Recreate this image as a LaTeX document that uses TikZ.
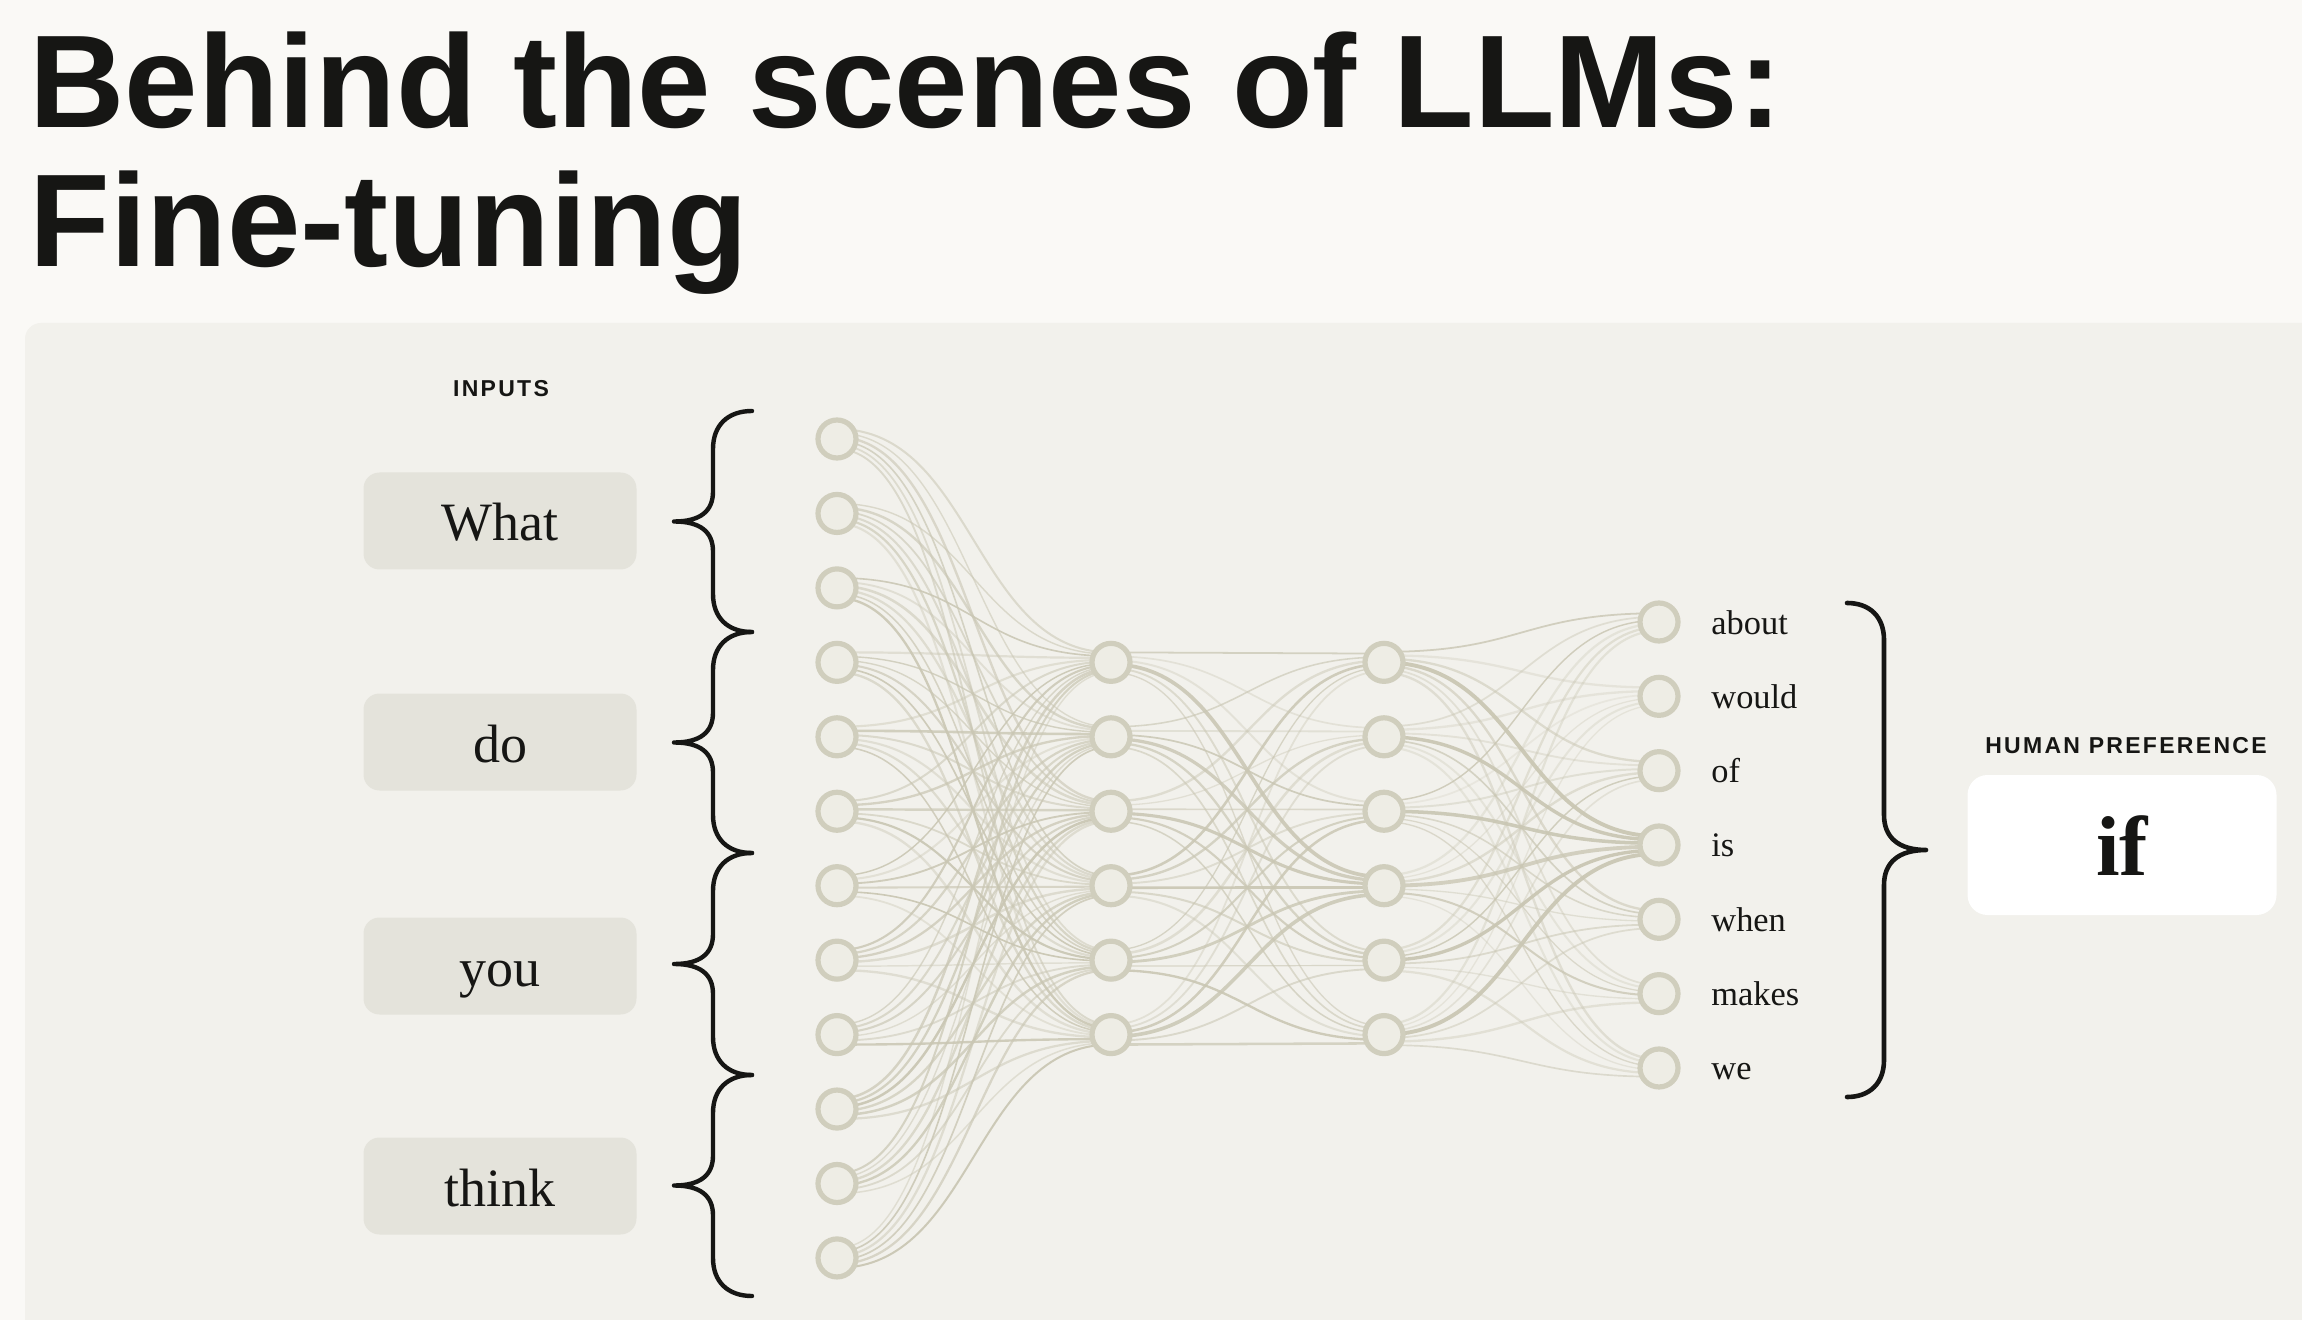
\documentclass[tikz,border=0pt]{standalone}
\usepackage{fontspec}
\setmainfont{Liberation Serif}
\setsansfont{Liberation Sans}
\newfontfamily\labelfont[LetterSpace=10]{Liberation Sans}
\usetikzlibrary{calc}
\definecolor{pagebg}{HTML}{FAF9F6}
\definecolor{panelbg}{HTML}{F2F1EC}
\definecolor{boxfill}{HTML}{E4E3DB}
\definecolor{ringcol}{HTML}{D0CEBD}
\definecolor{neufill}{HTML}{EEEDE5}
\definecolor{wirecol}{HTML}{CAC7B4}
\definecolor{inkcol}{HTML}{161614}
\pgfdeclarelayer{panel}
\pgfdeclarelayer{wires}
\pgfsetlayers{panel,wires,main}
\tikzset{
  neuron/.style={circle, draw=ringcol, fill=neufill, line width=2.6pt, minimum size=19pt, inner sep=0pt},
  wordbox/.style={fill=boxfill, rounded corners=8pt, minimum width=136.5pt, minimum height=48.5pt, inner sep=0pt,
    text height=21pt, text depth=1pt, font=\fontsize{27}{28}\selectfont, text=inkcol},
  outword/.style={anchor=base west, inner sep=0pt, font=\fontsize{17.2}{18}\selectfont, text=inkcol},
  caplabel/.style={anchor=base, inner sep=0pt, font=\labelfont\bfseries\fontsize{11.5}{12}\selectfont, text=inkcol},
  titletext/.style={anchor=base west, inner sep=0pt, font=\sffamily\bfseries\fontsize{66}{66}\selectfont, text=inkcol},
  bracestroke/.style={draw=inkcol, line width=2.2pt, line cap=round, line join=round},
  wire/.style={draw=wirecol}
}
\begin{document}
\begin{tikzpicture}[x=0.5pt,y=-0.5pt]
\useasboundingbox (0,0) rectangle (2302,1320);
\begin{pgfonlayer}{panel}
  \fill[pagebg] (0,0) rectangle (2302,1320);
  \begin{scope}
    \clip (0,0) rectangle (2302,1320);
    \fill[panelbg, rounded corners=8pt] (25,323) rectangle (2360,1380);
  \end{scope}
\end{pgfonlayer}

% title
\node[titletext] (t1) at (29,128) {Behind the scenes of LLMs:};
\node[titletext] (t2) at (29,267) {Fine-tuning};

% labels
\node[caplabel] (inlab) at (501,397) {INPUTS};
\node[caplabel] (hplab) at (2126,753) {HUMAN PREFERENCE};

% input word boxes
\node[wordbox] (w1) at (500,521) {What};
\node[wordbox] (w2) at (500,742) {do};
\node[wordbox] (w3) at (500,966) {you};
\node[wordbox] (w4) at (500,1186) {think};

% left braces
\foreach \yt/\yb in {411/632, 632/853, 853/1075, 1075/1296}{
  \pgfmathsetmacro\ym{(\yt+\yb)/2}
  \draw[bracestroke] (752,\yt) .. controls (728,\yt) and (713,\yt+14) .. (713,\yt+38)
    -- (713,\ym-30) .. controls (713,\ym-10) and (700,\ym) .. (674,\ym)
    .. controls (700,\ym) and (713,\ym+10) .. (713,\ym+30)
    -- (713,\yb-38) .. controls (713,\yb-14) and (728,\yb) .. (752,\yb);
}

% neurons
\foreach \i in {1,...,12}{
  \node[neuron] (in\i) at (837,{439+(\i-1)*74.45}) {};
}
\foreach \j in {1,...,6}{
  \node[neuron] (hA\j) at (1111,{439+(\j+2)*74.45}) {};
  \node[neuron] (hB\j) at (1384,{439+(\j+2)*74.45}) {};
}
\foreach \k/\w in {1/about,2/would,3/of,4/is,5/when,6/makes,7/we}{
  \node[neuron] (out\k) at (1659,{622+(\k-1)*74.33}) {};
  \node[outword] (ow\k) at (1711,{634+(\k-1)*74.33}) {\w};
}

% right brace
\draw[bracestroke, line width=2.3pt] (1847,603) .. controls (1870,603) and (1884,617) .. (1884,640)
  -- (1884,815) .. controls (1884,837) and (1898,850) .. (1926,850)
  .. controls (1898,850) and (1884,863) .. (1884,885)
  -- (1884,1060) .. controls (1884,1083) and (1870,1097) .. (1847,1097);

% preference box
\node[fill=white, rounded corners=10pt, minimum width=154.5pt, minimum height=70pt, inner sep=0pt,
  text height=31pt, text depth=1pt, font=\bfseries\fontsize{42.5}{44}\selectfont, text=inkcol] (pref) at (2122,845) {if};

% wires
\pgfmathsetseed{4242}
\begin{pgfonlayer}{wires}
\foreach \i in {1,...,12}{
  \foreach \j in {1,...,6}{
    \pgfmathsetmacro\op{0.4+0.55*rnd}
    \pgfmathsetmacro\lw{0.7+0.6*rnd}
    \pgfmathsetmacro\sa{(\j-3.5)*4}
    \pgfmathsetmacro\sb{(\i-6.5)*1.8}
    \draw[wire, opacity=\op, line width=\lw pt] ($(in\i)+(0,\sa)$) .. controls +(137,0) and +(-137,0) .. ($(hA\j)+(0,\sb)$);
  }
}
\foreach \i in {1,...,6}{
  \foreach \j in {1,...,6}{
    \pgfmathsetmacro\op{ifthenelse(\j==4,0.8+0.2*rnd,0.35+0.55*rnd)}
    \pgfmathsetmacro\lw{ifthenelse(\j==4,1.3+0.6*rnd,0.6+0.7*rnd)}
    \pgfmathsetmacro\sa{(\j-3.5)*4}
    \pgfmathsetmacro\sb{(\i-3.5)*3.5}
    \draw[wire, opacity=\op, line width=\lw pt] ($(hA\i)+(0,\sa)$) .. controls +(136.5,0) and +(-136.5,0) .. ($(hB\j)+(0,\sb)$);
  }
}
\foreach \i in {1,...,6}{
  \foreach \j in {1,...,7}{
    \pgfmathsetmacro\op{ifthenelse(\j==4,0.8+0.2*rnd,ifthenelse(\j==2,0.15+0.2*rnd,0.3+0.55*rnd))}
    \pgfmathsetmacro\lw{ifthenelse(\j==4,1.4+0.6*rnd,0.6+0.6*rnd)}
    \pgfmathsetmacro\sa{(\j-4)*3.5}
    \pgfmathsetmacro\sb{(\i-3.5)*3.5}
    \draw[wire, opacity=\op, line width=\lw pt] ($(hB\i)+(0,\sa)$) .. controls +(137.5,0) and +(-137.5,0) .. ($(out\j)+(0,\sb)$);
  }
}
\end{pgfonlayer}
\end{tikzpicture}
\end{document}
